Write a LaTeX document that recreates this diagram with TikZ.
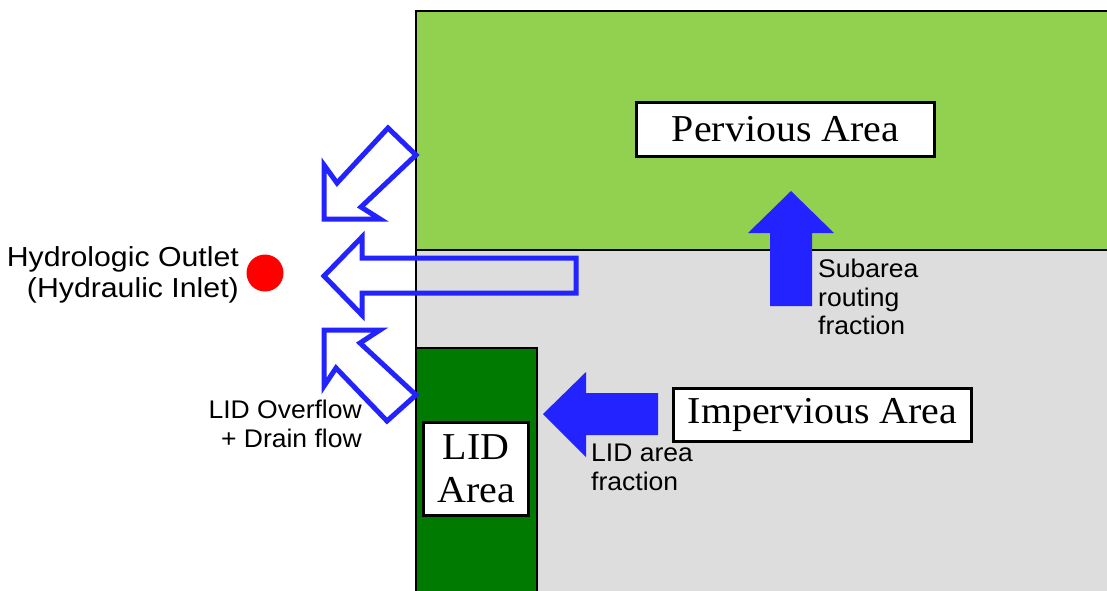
\documentclass[tikz,border=0pt]{standalone}
\usepackage{fontspec}
\setmainfont{Liberation Serif}[FakeStretch=1.05]
\setsansfont{Liberation Sans}[FakeStretch=1.04]
\newfontfamily\outletfont{Liberation Sans}[FakeStretch=1.1]
\definecolor{pervgreen}{RGB}{146,208,80}
\definecolor{impgray}{RGB}{221,221,221}
\definecolor{lidgreen}{RGB}{0,122,0}
\definecolor{flowblue}{RGB}{35,35,255}
\begin{document}
\begin{tikzpicture}[x=1pt,y=-1pt,line join=miter,
  area/.style={draw=black,line width=2.2pt},
  label box/.style={draw=black,fill=white,line width=3pt,font=\fontsize{38}{43}\selectfont,align=center,inner sep=0pt},
  hollow arrow/.style={draw=flowblue,line width=5pt},
  solid arrow/.style={fill=flowblue},
  note/.style={font=\sffamily\fontsize{25.5}{28.5}\selectfont,inner sep=0pt}]
 \useasboundingbox (0,0) rectangle (1107,590);
 \fill[white] (0,0) rectangle (1107,590);
 \filldraw[area,fill=impgray] (416,250) rectangle (1130,610);
 \filldraw[area,fill=pervgreen] (416,11) rectangle (1130,250);
 \filldraw[area,fill=lidgreen] (416,348) rectangle (537,610);
 \node[label box,minimum width=298,minimum height=54] (pervious) at (785.5,129.5) {Pervious Area};
 \node[label box,minimum width=298,minimum height=53] (impervious) at (822.5,415) {Impervious Area};
 \node[label box,minimum width=105,minimum height=93] (lid) at (476,469) {LID\\Area};
 \fill[solid arrow] (791,191) -- (834,233) -- (812,233) -- (812,306) -- (770,306) -- (770,233) -- (748,233) -- cycle;
 \fill[solid arrow] (543,414) -- (586,372) -- (586,393) -- (658,393) -- (658,435) -- (586,435) -- (586,457) -- cycle;
 \draw[hollow arrow] (324,219) -- (324,165) -- (337,183) -- (388,128) -- (416,155) -- (361,207) -- (380,219) -- cycle;
 \draw[hollow arrow] (324,276) -- (362,237) -- (362,258) -- (576,258) -- (576,293) -- (362,293) -- (362,315) -- cycle;
 \draw[hollow arrow] (324,330) -- (380,330) -- (360,343) -- (416,395) -- (387,421) -- (336,368) -- (324,386) -- cycle;
 \node[circle,fill=red,minimum size=37,inner sep=0pt] (outletdot) at (265,273) {};
 \node[note,font=\outletfont\fontsize{27.5}{31.5}\selectfont,anchor=east,align=right] (outlet) at (239,275) {Hydrologic Outlet\\(Hydraulic Inlet)};
 \node[note,anchor=north west,align=left] (routing) at (818,259) {Subarea\\routing\\fraction};
 \node[note,anchor=north west,align=left] (lidfrac) at (591,444) {LID area\\fraction};
 \node[note,anchor=north east,align=right] (overflow) at (362,400) {LID Overflow\\+ Drain flow};
\end{tikzpicture}
\end{document}
